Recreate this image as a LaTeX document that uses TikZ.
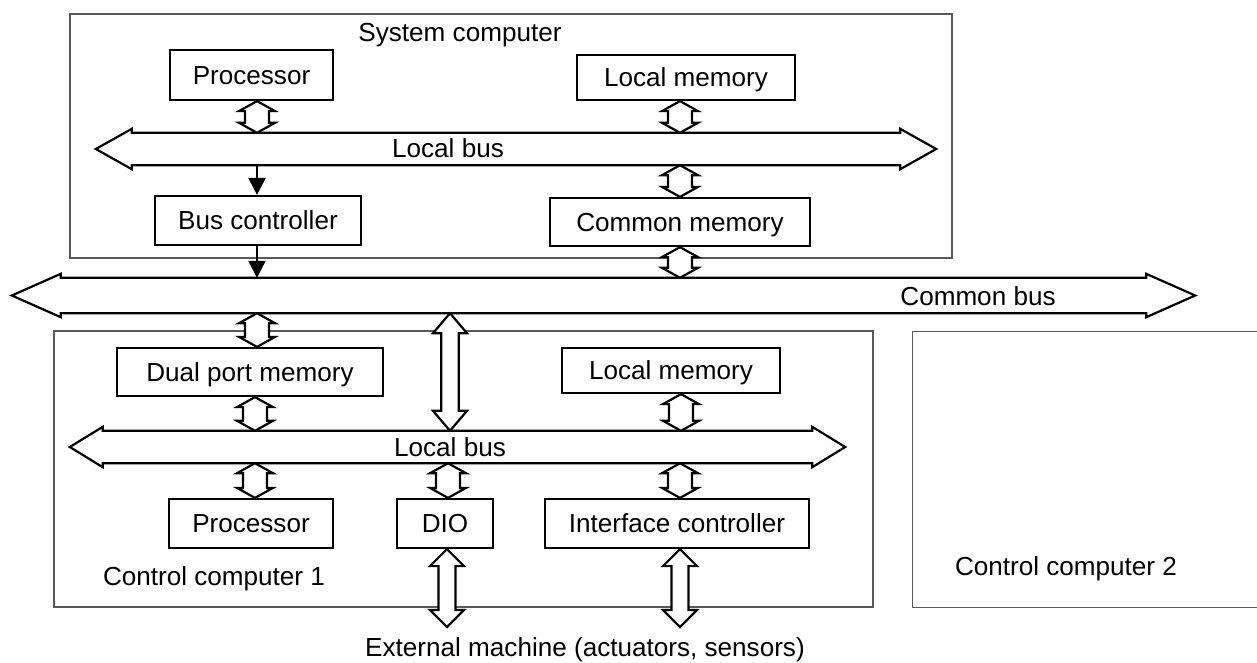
\documentclass[tikz,border=0pt]{standalone}
\usepackage{fontspec}
\setmainfont{Liberation Sans}
\usetikzlibrary{calc,arrows.meta}
\newcommand\hbus[3]{% name, head length, head extension
  \draw[busline] (#1.west) -- ($(#1.north west)+(#2,-#3)$) -- ($(#1.north west)+(#2,0)$)
   -- ($(#1.north east)+(-#2,0)$) -- ($(#1.north east)+(-#2,-#3)$) -- (#1.east)
   -- ($(#1.south east)+(-#2,#3)$) -- ($(#1.south east)+(-#2,0)$)
   -- ($(#1.south west)+(#2,0)$) -- ($(#1.south west)+(#2,#3)$) -- cycle;}
\newcommand\vdbl[5]{% top point, bottom point, shaft half, head half, head length
  \coordinate (vdT) at #1; \coordinate (vdB) at #2;
  \draw[busline] (vdT) -- ($(vdT)+(#4,#5)$) -- ($(vdT)+(#3,#5)$) -- ($(vdB)+(#3,-#5)$)
   -- ($(vdB)+(#4,-#5)$) -- (vdB) -- ($(vdB)+(-#4,-#5)$) -- ($(vdB)+(-#3,-#5)$)
   -- ($(vdT)+(-#3,#5)$) -- ($(vdT)+(-#4,#5)$) -- cycle;}
\newcommand\sdbl[2]{\vdbl{#1}{#2}{12}{18}{10}}
\newcommand\bdbl[2]{\vdbl{#1}{#2}{8.7}{17}{20}}
\begin{document}
\begin{tikzpicture}[x=1pt,y=-1pt,
  txt/.style={font=\fontsize{26.1pt}{31pt}\selectfont},
  box/.style={txt,draw,line width=2.2pt,inner sep=0pt,text height=18.7pt,text depth=0pt},
  frame/.style={draw=black!65,line width=1.3pt,inner sep=0pt},
  lbl/.style={txt,anchor=base,inner sep=0pt},
  busbody/.style={inner sep=0pt,minimum height=#1},
  busline/.style={draw=black,fill=white,line width=2.2pt,line join=miter},
  sarrow/.style={line width=2.2pt,-{Triangle[width=17pt,length=17pt]}}]
\useasboundingbox (0,0) rectangle (1257,662);
\fill[white] (0,0) rectangle (1257,662);
% outer frames
\node[frame,minimum width=882pt,minimum height=244pt] (sys) at (511,136) {};
\node[frame,minimum width=819pt,minimum height=276pt] (cc1) at (463.5,469) {};
\node[inner sep=0pt,minimum width=344pt,minimum height=275pt] (cc2) at (1085,469.5) {};
\draw[draw=black!65,line width=1.3pt] (cc2.north east) -- (cc2.north west) -- (cc2.south west) -- (cc2.south east);
% column coordinates
\coordinate (cA) at (257,0);
\coordinate (cB) at (255,0);
\coordinate (cM) at (680,0);
\coordinate (cM2) at (681,0);
\coordinate (cD) at (450,0);
\coordinate (cD2) at (448,0);
% buses
\node[busbody=32pt,minimum width=840pt] (lb1) at (516,149) {};
\node[busbody=35pt,minimum width=1183pt] (cb) at (603.5,295.5) {};
\node[busbody=32pt,minimum width=775pt] (lb2) at (457.5,447) {};
\hbus{lb1}{36}{4}
\hbus{cb}{49}{4}
\hbus{lb2}{33}{4}
\node[lbl] (lb1t) at (448,157) {Local bus};
\node[lbl] (cbt) at (978,305) {Common bus};
\node[lbl] (lb2t) at (450,456) {Local bus};
% system computer
\node[lbl] (syst) at (460,41) {System computer};
\node[box,minimum width=163pt,minimum height=50pt] (procA) at (251.5,75) {Processor};
\node[box,minimum width=218pt,minimum height=45pt] (lmemA) at (686,77.5) {Local memory};
\node[box,minimum width=206pt,minimum height=49pt] (busctl) at (258,220.5) {Bus controller};
\node[box,minimum width=260pt,minimum height=48pt] (cmem) at (680,222) {Common memory};
% control computer 1
\node[box,minimum width=266pt,minimum height=48pt] (dpm) at (250,372) {Dual port memory};
\node[box,minimum width=218pt,minimum height=45pt] (lmemB) at (671,370.5) {Local memory};
\node[box,minimum width=164pt,minimum height=49pt] (procB) at (251,523.5) {Processor};
\node[box,minimum width=96pt,minimum height=49pt] (dio) at (445,523.5) {DIO};
\node[box,minimum width=264pt,minimum height=49pt] (ifc) at (677,523.5) {Interface controller};
\node[lbl] (cc1t) at (214,585) {Control computer 1};
\node[lbl] (cc2t) at (1066,575) {Control computer 2};
\node[lbl] (ext) at (585,656) {External machine (actuators, sensors)};
\coordinate (extD) at (447,627);
\coordinate (extI) at (680,627);
% connectors, system computer
\sdbl{(procA.south -| cA)}{(lb1.north -| cA)}
\sdbl{(lmemA.south -| cM)}{(lb1.north -| cM)}
\sdbl{(lb1.south -| cM)}{(cmem.north -| cM)}
\sdbl{(cmem.south -| cM)}{(cb.north -| cM)}
\draw[sarrow] (lb1.south -| cA) -- (busctl.north -| cA);
\draw[sarrow] (busctl.south -| cA) -- (cb.north -| cA);
% connectors, control computer 1
\sdbl{(cb.south -| cA)}{(dpm.north -| cA)}
\bdbl{(cb.south -| cD)}{(lb2.north -| cD)}
\sdbl{(dpm.south -| cB)}{(lb2.north -| cB)}
\sdbl{(lmemB.south -| cM2)}{(lb2.north -| cM2)}
\sdbl{(lb2.south -| cB)}{(procB.north -| cB)}
\sdbl{(lb2.south -| cD2)}{(dio.north -| cD2)}
\sdbl{(lb2.south -| cM)}{(ifc.north -| cM)}
\vdbl{(dio.south -| extD)}{(extD)}{8.5}{17}{17}
\vdbl{(ifc.south -| extI)}{(extI)}{8.5}{17}{17}
\end{tikzpicture}
\end{document}
